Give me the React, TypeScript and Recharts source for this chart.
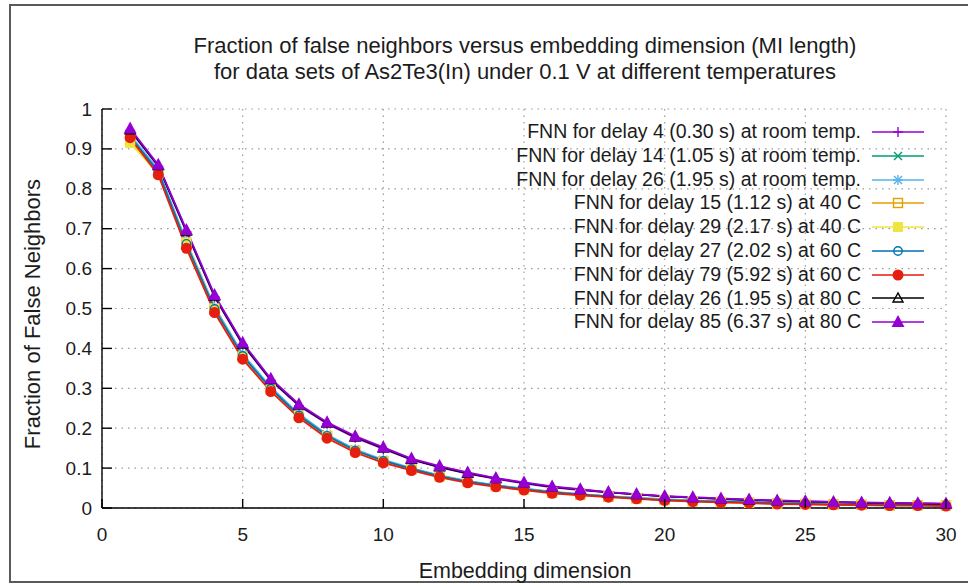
import React from 'react';
import { LineChart, Line, XAxis, YAxis, CartesianGrid, Legend } from 'recharts';

const embeddingDims = [1, 2, 3, 4, 5, 6, 7, 8, 9, 10, 11, 12, 13, 14, 15, 16, 17, 18, 19, 20, 21, 22, 23, 24, 25, 26, 27, 28, 29, 30];

const seriesNames = [
  'FNN for delay 4 (0.30 s) at room temp.',
  'FNN for delay 14 (1.05 s) at room temp.',
  'FNN for delay 26 (1.95 s) at room temp.',
  'FNN for delay 15 (1.12 s) at 40 C',
  'FNN for delay 29 (2.17 s) at 40 C',
  'FNN for delay 27 (2.02 s) at 60 C',
  'FNN for delay 79 (5.92 s) at 60 C',
  'FNN for delay 26 (1.95 s) at 80 C',
  'FNN for delay 85 (6.37 s) at 80 C',
];
const seriesColors = ['#9400d3', '#009e73', '#56b4e9', '#e69f00', '#f0e442', '#0072b2', '#e51e10', '#000000', '#9400d3'];
const seriesMarkers = ['plus', 'cross', 'star', 'square', 'squareFilled', 'circle', 'circleFilled', 'triangle', 'triangleFilled'];

const fnnRoomDelay4 = [0.946, 0.856, 0.692, 0.529, 0.409, 0.320, 0.256, 0.211, 0.176, 0.148, 0.121, 0.102, 0.086, 0.073, 0.062, 0.052, 0.045, 0.039, 0.034, 0.029, 0.026, 0.023, 0.020, 0.018, 0.016, 0.014, 0.013, 0.012, 0.011, 0.010];
const fnnRoomDelay14 = [0.932, 0.845, 0.664, 0.500, 0.382, 0.300, 0.233, 0.182, 0.145, 0.119, 0.099, 0.081, 0.067, 0.056, 0.048, 0.040, 0.034, 0.029, 0.025, 0.021, 0.018, 0.016, 0.014, 0.012, 0.011, 0.010, 0.009, 0.008, 0.007, 0.007];
const fnnRoomDelay26 = [0.935, 0.848, 0.668, 0.504, 0.386, 0.303, 0.236, 0.184, 0.147, 0.121, 0.100, 0.082, 0.068, 0.057, 0.049, 0.041, 0.035, 0.030, 0.026, 0.022, 0.019, 0.017, 0.015, 0.013, 0.012, 0.011, 0.010, 0.009, 0.008, 0.008];
const fnn40Delay15 = [0.922, 0.840, 0.660, 0.497, 0.379, 0.297, 0.231, 0.180, 0.143, 0.117, 0.097, 0.080, 0.066, 0.055, 0.047, 0.039, 0.033, 0.028, 0.024, 0.020, 0.017, 0.015, 0.013, 0.011, 0.010, 0.009, 0.008, 0.007, 0.007, 0.006];
const fnn40Delay29 = [0.915, 0.838, 0.666, 0.500, 0.380, 0.297, 0.231, 0.180, 0.143, 0.117, 0.097, 0.080, 0.066, 0.055, 0.047, 0.040, 0.034, 0.029, 0.024, 0.020, 0.017, 0.015, 0.013, 0.011, 0.010, 0.009, 0.008, 0.007, 0.007, 0.006];
const fnn60Delay27 = [0.930, 0.843, 0.662, 0.499, 0.381, 0.299, 0.232, 0.181, 0.144, 0.118, 0.098, 0.080, 0.066, 0.056, 0.047, 0.040, 0.034, 0.029, 0.024, 0.020, 0.018, 0.016, 0.014, 0.012, 0.010, 0.009, 0.008, 0.008, 0.007, 0.006];
const fnn60Delay79 = [0.928, 0.835, 0.651, 0.490, 0.373, 0.292, 0.226, 0.175, 0.139, 0.113, 0.094, 0.077, 0.063, 0.053, 0.045, 0.037, 0.032, 0.027, 0.023, 0.019, 0.016, 0.014, 0.012, 0.010, 0.009, 0.008, 0.007, 0.006, 0.006, 0.005];
const fnn80Delay26 = [0.948, 0.858, 0.694, 0.531, 0.411, 0.322, 0.258, 0.213, 0.178, 0.150, 0.122, 0.103, 0.087, 0.074, 0.063, 0.053, 0.046, 0.039, 0.034, 0.029, 0.026, 0.023, 0.020, 0.018, 0.016, 0.015, 0.013, 0.012, 0.011, 0.010];
const fnn80Delay85 = [0.951, 0.860, 0.697, 0.534, 0.414, 0.324, 0.260, 0.215, 0.180, 0.152, 0.124, 0.105, 0.089, 0.075, 0.064, 0.054, 0.047, 0.040, 0.035, 0.030, 0.027, 0.024, 0.021, 0.019, 0.017, 0.015, 0.014, 0.013, 0.012, 0.011];

const seriesValues = [fnnRoomDelay4, fnnRoomDelay14, fnnRoomDelay26, fnn40Delay15, fnn40Delay29, fnn60Delay27, fnn60Delay79, fnn80Delay26, fnn80Delay85];

const xTicks = [0, 5, 10, 15, 20, 25, 30];
const yTicks = [0, 0.1, 0.2, 0.3, 0.4, 0.5, 0.6, 0.7, 0.8, 0.9, 1];
const yTickLabels = ['0', '0.1', '0.2', '0.3', '0.4', '0.5', '0.6', '0.7', '0.8', '0.9', '1'];

const titleLines = [
  'Fraction of false neighbors versus embedding dimension (MI length)',
  'for data sets of As2Te3(In) under 0.1 V at different temperatures',
];
const xLabel = 'Embedding dimension';
const yLabel = 'Fraction of False Neighbors';

const data = embeddingDims.map((d, i) => {
  const row: Record<string, number> = { dim: d };
  seriesValues.forEach((vals, k) => {
    row['s' + k] = vals[i];
  });
  return row;
});

const FONT = '"Liberation Sans", Arial, sans-serif';
const TEXT_COLOR = '#1c1c1c';

function Marker({ kind, cx, cy, color }: { kind: string; cx: number; cy: number; color: string }) {
  const sw = 1.4;
  switch (kind) {
    case 'plus':
      return (
        <g stroke={color} strokeWidth={sw}>
          <line x1={cx - 5} x2={cx + 5} y1={cy} y2={cy} />
          <line x1={cx} x2={cx} y1={cy - 5} y2={cy + 5} />
        </g>
      );
    case 'cross':
      return (
        <g stroke={color} strokeWidth={sw}>
          <line x1={cx - 4} x2={cx + 4} y1={cy - 4} y2={cy + 4} />
          <line x1={cx - 4} x2={cx + 4} y1={cy + 4} y2={cy - 4} />
        </g>
      );
    case 'star':
      return (
        <g stroke={color} strokeWidth={sw}>
          <line x1={cx - 5} x2={cx + 5} y1={cy} y2={cy} />
          <line x1={cx} x2={cx} y1={cy - 5} y2={cy + 5} />
          <line x1={cx - 4} x2={cx + 4} y1={cy - 4} y2={cy + 4} />
          <line x1={cx - 4} x2={cx + 4} y1={cy + 4} y2={cy - 4} />
        </g>
      );
    case 'square':
      return <rect x={cx - 4.5} y={cy - 4.5} width={9} height={9} fill="none" stroke={color} strokeWidth={sw} />;
    case 'squareFilled':
      return <rect x={cx - 5} y={cy - 5} width={10} height={10} fill={color} stroke="none" />;
    case 'circle':
      return <circle cx={cx} cy={cy} r={4.2} fill="none" stroke={color} strokeWidth={sw} />;
    case 'circleFilled':
      return <circle cx={cx} cy={cy} r={5.5} fill={color} stroke="none" />;
    case 'triangle':
      return (
        <polygon
          points={`${cx},${cy - 5} ${cx - 5},${cy + 4} ${cx + 5},${cy + 4}`}
          fill="none"
          stroke={color}
          strokeWidth={sw}
        />
      );
    case 'triangleFilled':
      return (
        <polygon points={`${cx},${cy - 7} ${cx - 6.5},${cy + 5} ${cx + 6.5},${cy + 5}`} fill={color} stroke="none" />
      );
    default:
      return null;
  }
}

const XTick = (props: any) => {
  const { x, y, payload } = props;
  return (
    <g>
      <line x1={x} x2={x} y1={y} y2={y - 9} stroke="#000" strokeWidth={1.4} />
      <text x={x} y={y + 26} textAnchor="middle" dominantBaseline="central" fontFamily={FONT} fontSize={19} fill={TEXT_COLOR}>
        {payload.value}
      </text>
    </g>
  );
};

const YTick = (props: any) => {
  const { x, y, payload, index } = props;
  const label = yTickLabels[index] ?? String(payload.value);
  return (
    <g>
      <line x1={x} x2={x + 10} y1={y} y2={y} stroke="#000" strokeWidth={1.4} />
      <text x={x - 10} y={y} textAnchor="end" dominantBaseline="central" fontFamily={FONT} fontSize={19} fill={TEXT_COLOR}>
        {label}
      </text>
    </g>
  );
};

const renderLegend = () => (
  <div style={{ width: 530, fontFamily: FONT, fontSize: 19.5, color: TEXT_COLOR }}>
    {seriesNames.map((name, k) => (
      <div key={name} style={{ display: 'flex', alignItems: 'center', justifyContent: 'flex-end', height: 23.8 }}>
        <span style={{ whiteSpace: 'nowrap', lineHeight: '23.8px' }}>{name}</span>
        <svg width={64} height={24} style={{ marginLeft: 0, display: 'block' }}>
          <line x1={11} x2={63} y1={12} y2={12} stroke={seriesColors[k]} strokeWidth={1.7} />
          <Marker kind={seriesMarkers[k]} cx={37} cy={12} color={seriesColors[k]} />
        </svg>
      </div>
    ))}
  </div>
);

export default function App() {
  return (
    <div style={{ position: 'absolute', left: 0, top: 0, width: 968, height: 587, overflow: 'hidden', background: '#fff' }}>
      <style>{`body{margin:0;background:#fff}`}</style>
      <div
        style={{
          position: 'absolute',
          left: 9,
          top: 4,
          width: 980,
          height: 579,
          borderTop: '2px solid #5a5a5a',
          borderLeft: '2px solid #5a5a5a',
          borderBottom: '2px solid #5a5a5a',
          boxSizing: 'border-box',
        }}
      />
      <div style={{ position: 'absolute', left: 0, top: 0 }}>
        <LineChart width={968} height={587} data={data} margin={{ top: 109, right: 22, bottom: 0, left: 0 }}>
          <CartesianGrid stroke="#9a9a9a" strokeDasharray="1.5 5" strokeWidth={1.2} />
          <XAxis
            dataKey="dim"
            type="number"
            domain={[0, 30]}
            ticks={xTicks}
            interval={0}
            height={79}
            tickSize={0}
            tickMargin={0}
            tickLine={false}
            axisLine={{ stroke: '#000', strokeWidth: 1.4 }}
            tick={XTick}
          />
          <XAxis
            xAxisId="top"
            dataKey="dim"
            type="number"
            orientation="top"
            domain={[0, 30]}
            ticks={xTicks}
            interval={0}
            height={0}
            mirror
            tickSize={9}
            tick={false}
            tickLine={{ stroke: '#000', strokeWidth: 1.4 }}
            axisLine={{ stroke: '#000', strokeWidth: 1.4 }}
          />
          <YAxis
            type="number"
            domain={[0, 1]}
            ticks={yTicks}
            interval={0}
            width={102}
            tickSize={0}
            tickMargin={0}
            tickLine={false}
            axisLine={{ stroke: '#000', strokeWidth: 1.4 }}
            tick={YTick}
          />
          <YAxis
            yAxisId="right"
            type="number"
            orientation="right"
            domain={[0, 1]}
            ticks={yTicks}
            interval={0}
            width={0}
            mirror
            tickSize={9}
            tick={false}
            tickLine={{ stroke: '#000', strokeWidth: 1.4 }}
            axisLine={{ stroke: '#000', strokeWidth: 1.4 }}
          />
          <Legend
            layout="vertical"
            align="center"
            verticalAlign="middle"
            content={renderLegend}
            wrapperStyle={{ position: 'absolute', left: 925 - 530, top: 120, width: 530 }}
          />
          {seriesNames.map((name, k) => (
            <Line
              key={name}
              name={name}
              dataKey={'s' + k}
              type="linear"
              stroke={seriesColors[k]}
              strokeWidth={1.8}
              isAnimationActive={false}
              dot={(p: any) => (
                <Marker key={`m-${k}-${p.index}`} kind={seriesMarkers[k]} cx={p.cx} cy={p.cy} color={seriesColors[k]} />
              )}
              activeDot={false}
            />
          ))}
        </LineChart>
      </div>
      {titleLines.map((t, i) => (
        <div
          key={t}
          style={{
            position: 'absolute',
            left: 0,
            width: 1050,
            top: 33 + i * 26,
            textAlign: 'center',
            fontFamily: FONT,
            fontSize: 22,
            lineHeight: '26px',
            color: TEXT_COLOR,
            whiteSpace: 'nowrap',
          }}
        >
          {t}
        </div>
      ))}
      <div
        style={{
          position: 'absolute',
          left: 0,
          width: 1050,
          top: 558,
          textAlign: 'center',
          fontFamily: FONT,
          fontSize: 21.5,
          lineHeight: '26px',
          color: TEXT_COLOR,
          whiteSpace: 'nowrap',
        }}
      >
        {xLabel}
      </div>
      <div
        style={{
          position: 'absolute',
          left: 33 - 200,
          top: 314 - 13,
          width: 400,
          height: 26,
          textAlign: 'center',
          fontFamily: FONT,
          fontSize: 22,
          lineHeight: '26px',
          color: TEXT_COLOR,
          whiteSpace: 'nowrap',
          transform: 'rotate(-90deg)',
        }}
      >
        {yLabel}
      </div>
    </div>
  );
}
